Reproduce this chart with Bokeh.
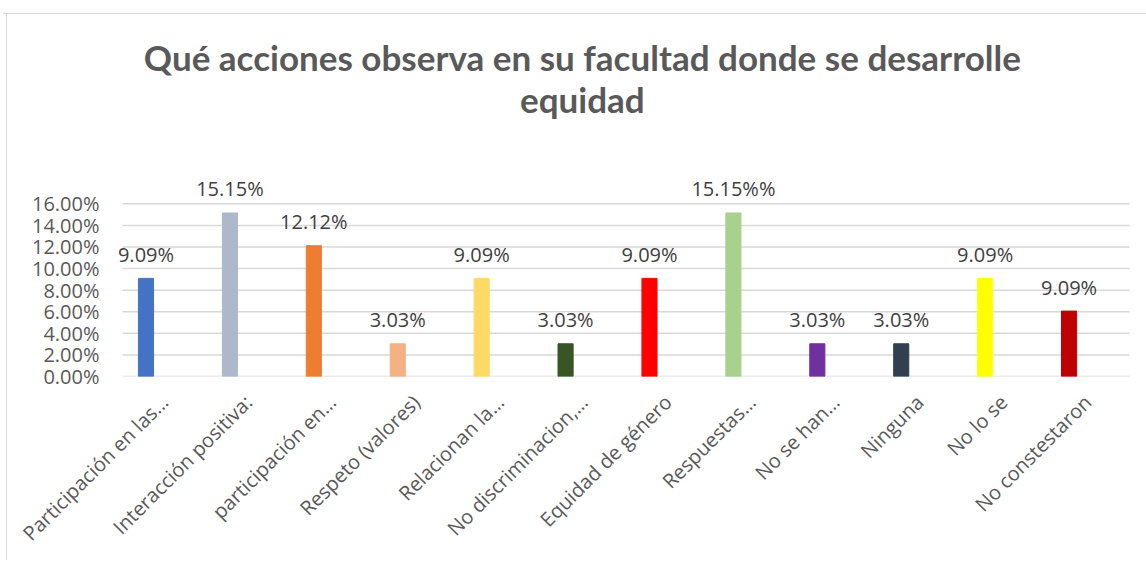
from bokeh.plotting import figure
from bokeh.models import (ColumnDataSource, LabelSet, Label, FixedTicker,
                          NumeralTickFormatter, FactorRange)
from bokeh.transform import dodge
from bokeh.core.properties import value
from bokeh.embed import file_html
from bokeh.resources import INLINE
import math

categories = ["Participación en las…", "Interacción positiva:", "participación en…",
              "Respeto (valores)", "Relacionan la…", "No discriminacion,…",
              "Equidad de género", "Respuestas…", "No se han…", "Ninguna",
              "No lo se", "No constestaron"]
values = [0.0909, 0.1515, 0.1212, 0.0303, 0.0909, 0.0303, 0.0909, 0.1515,
          0.0303, 0.0303, 0.0909, 0.0606]
value_labels = ["9.09%", "15.15%", "12.12%", "3.03%", "9.09%", "3.03%", "9.09%",
                "15.15%%", "3.03%", "3.03%", "9.09%", "9.09%"]
colors = ["#4472C4", "#ADB9CA", "#ED7D31", "#F4B183", "#FFD966", "#375623",
          "#FF0000", "#A9D18E", "#7030A0", "#323F4F", "#FFFF00", "#C00000"]
y_ticks = [0.0, 0.02, 0.04, 0.06, 0.08, 0.10, 0.12, 0.14, 0.16]
title_lines = ["Qué acciones observa en su facultad donde se desarrolle", "equidad"]

src = ColumnDataSource(dict(cat=categories, val=values, lab=value_labels, col=colors))
grid_src = ColumnDataSource(dict(first=[categories[0]] * len(y_ticks),
                                 last=[categories[-1]] * len(y_ticks),
                                 y=y_ticks))

W, H = 1146, 560
PX_PER_UNIT = 1079.4
ZERO_Y = 376
TOP = 16
PAD = 0.143  # category units of padding on each side of the plot area

x_range = FactorRange(factors=categories, range_padding=PAD, range_padding_units="absolute")
p = figure(x_range=x_range, y_range=(0, (ZERO_Y - TOP) / PX_PER_UNIT),
           width=W, height=H,
           output_backend="svg", toolbar_location=None,
           min_border_left=110, min_border_right=5, min_border_top=TOP,
           min_border_bottom=H - ZERO_Y)
p.border_fill_color = None
p.background_fill_color = None
p.outline_line_color = None
p.styles = {"background": "linear-gradient(#d9d9d9,#d9d9d9) 3px 13px / 100% 1px no-repeat, "
                          "linear-gradient(#d9d9d9,#d9d9d9) 6px 13px / 1px 100% no-repeat"}

# horizontal gridlines spanning exactly the category area
p.segment(x0=dodge("first", -0.5, range=x_range), x1=dodge("last", 0.5, range=x_range),
          y0="y", y1="y", line_color="#d9d9d9", line_width=1.5, source=grid_src)

bar_x = dodge("cat", -0.22, range=x_range)
p.vbar(x=bar_x, top="val", bottom=0, width=0.18, color="col", source=src)

p.add_layout(LabelSet(x=bar_x, y="val", text="lab", source=src, y_offset=24,
                      text_align="center", text_baseline="middle",
                      text_font=value("Open Sans"), text_font_size="20px",
                      text_color="#404040"))

p.add_layout(Label(x=5.48, y=(ZERO_Y - 56) / PX_PER_UNIT, text=title_lines[0],
                   text_align="center", text_baseline="alphabetic", text_font="Lato",
                   text_font_style="bold", text_font_size="35px", text_color="#595959"))
p.add_layout(Label(x=5.48, y=(ZERO_Y - 98) / PX_PER_UNIT, text=title_lines[1],
                   text_align="center", text_baseline="alphabetic", text_font="Lato",
                   text_font_style="bold", text_font_size="35px", text_color="#595959"))

p.yaxis.ticker = FixedTicker(ticks=y_ticks)
p.yaxis.formatter = NumeralTickFormatter(format="0.00%")
p.yaxis.axis_line_color = None
p.yaxis.major_tick_line_color = None
p.yaxis.minor_tick_line_color = None
p.yaxis.major_tick_out = 0
p.yaxis.major_tick_in = 0
p.yaxis.major_label_standoff = 11
p.yaxis.major_label_text_font = "Open Sans"
p.yaxis.major_label_text_font_size = "20px"
p.yaxis.major_label_text_color = "#595959"

p.xaxis.axis_line_color = None
p.xaxis.major_tick_line_color = None
p.xaxis.minor_tick_line_color = None
p.xaxis.major_tick_out = 0
p.xaxis.major_tick_in = 0
p.xaxis.major_label_orientation = math.pi / 4
p.xaxis.major_label_standoff = 22
p.xaxis.major_label_text_font = "Open Sans"
p.xaxis.major_label_text_font_size = "20px"
p.xaxis.major_label_text_color = "#595959"

p.xgrid.grid_line_color = None
p.ygrid.grid_line_color = None

open("out.html", "w").write(file_html(p, INLINE))
